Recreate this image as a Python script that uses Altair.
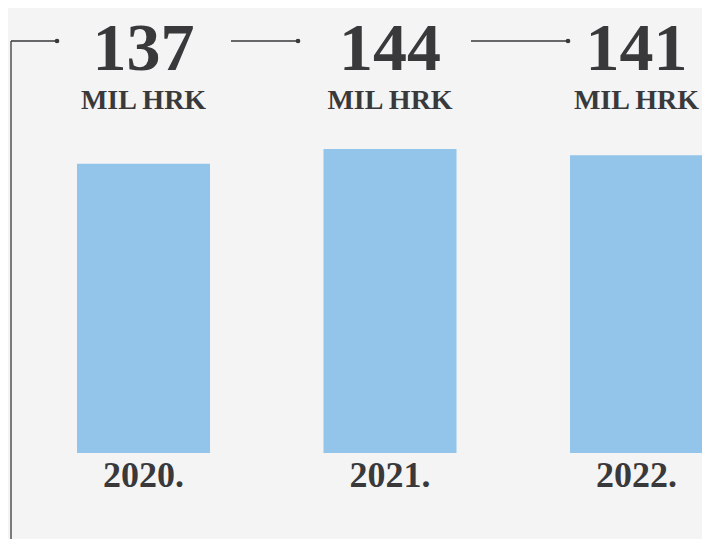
import altair as alt
import pandas as pd

years = ["2020.", "2021.", "2022."]
values = [137, 144, 141]
units = ["MIL HRK", "MIL HRK", "MIL HRK"]

INK = "#39393b"
BAR = "#93c4e9"
FONT = "Liberation Serif"

df = pd.DataFrame({"year": years, "value": values, "unit": units})

xscale = alt.Scale(domain=years, range=[0, 695], paddingInner=0.4604,
                   paddingOuter=0.14, align=1)
x = alt.X("year:N", scale=xscale, axis=None)

base = alt.Chart(df)

bars = base.mark_bar(color=BAR).encode(
    x=x,
    y=alt.Y("value:Q", scale=alt.Scale(domain=[0, 210.8], nice=False), axis=None),
)

nums = base.mark_text(font=FONT, fontSize=68, fontWeight="bold", color=INK,
                      baseline="alphabetic").encode(
    x=x, y=alt.value(62), text=alt.Text("value:Q", format="d"))

unit_txt = base.mark_text(font=FONT, fontSize=28, fontWeight="bold", color=INK,
                          baseline="alphabetic").encode(
    x=x, y=alt.value(101), text="unit:N")

year_txt = base.mark_text(font=FONT, fontSize=36, fontWeight="bold", color=INK,
                          baseline="alphabetic").encode(
    x=x, y=alt.value(479), text="year:N")

one = pd.DataFrame({"k": [0]})

def hseg(x1, x2, y):
    return alt.Chart(one).mark_rule(color=INK, strokeWidth=1.3).encode(
        x=alt.value(x1), x2=alt.value(x2), y=alt.value(y))

def dot(xp, y):
    return alt.Chart(one).mark_circle(color=INK, size=22, opacity=1).encode(
        x=alt.value(xp), y=alt.value(y))

vline = alt.Chart(one).mark_rule(color=INK, strokeWidth=1.3).encode(
    x=alt.value(3), y=alt.value(33), y2=alt.value(531))

connectors = [vline, hseg(3, 49, 33), dot(49, 33), hseg(223, 290, 33), dot(290, 33),
              hseg(463, 560, 33), dot(560, 33)]

chart = alt.layer(bars, nums, unit_txt, year_txt, *connectors).properties(
    width=694, height=445,
    padding={"left": 0, "top": 0, "right": 0, "bottom": 86},
    autosize=alt.AutoSizeParams(type="none"),
    background="#f4f4f4",
).configure_view(stroke=None)

chart.save("out.html", embed_options={"renderer": "svg", "actions": False})
